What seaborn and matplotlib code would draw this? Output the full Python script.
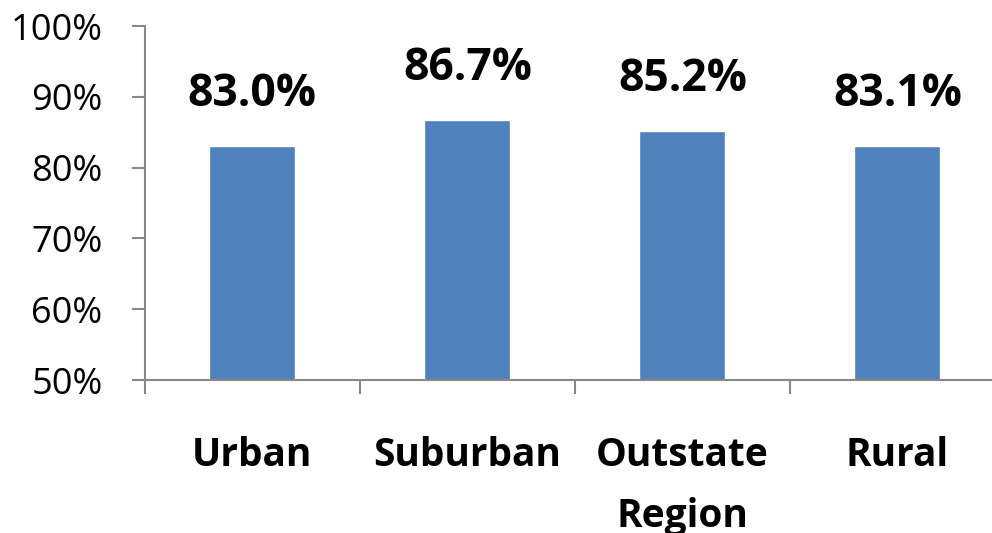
import matplotlib
matplotlib.use('Agg')
import matplotlib.pyplot as plt
import seaborn as sns
import pandas as pd
from matplotlib.ticker import FixedLocator, PercentFormatter

# Data
regions = ['Urban', 'Suburban', 'Outstate\nRegion', 'Rural']
rates = [83.0, 86.7, 85.2, 83.1]

df = pd.DataFrame({'region': regions, 'rate': rates})

sns.set_style('white')
plt.rcParams['font.family'] = ['Open Sans', 'DejaVu Sans']
plt.rcParams['text.color'] = 'black'
plt.rcParams['xtick.labelcolor'] = 'black'
plt.rcParams['ytick.labelcolor'] = 'black'

fig = plt.figure(figsize=(9.92, 5.33), dpi=100)
ax = fig.add_axes([0.146, 0.287, 0.867, 0.664])

sns.barplot(data=df, x='region', y='rate', color='#4F81BD', width=0.4,
            saturation=1, ax=ax)

ax.set_ylim(50, 100)
ax.set_xlim(-0.5, 3.5)
ax.set_yticks([50, 60, 70, 80, 90, 100])
ax.yaxis.set_major_formatter(PercentFormatter(decimals=0))
ax.set_xlabel('')
ax.set_ylabel('')

# value labels above bars
for i, v in enumerate(rates):
    ax.annotate(f'{v:.1f}%', (i, v), xytext=(0, 21), textcoords='offset points',
                ha='center', va='bottom', fontsize=32, fontweight='bold',
                color='black')

# category labels at centres, tick marks at boundaries
ax.tick_params(axis='x', which='major', length=0, pad=40, labelsize=28)
for lab in ax.get_xticklabels():
    lab.set_fontweight('bold')
    lab.set_linespacing(1.75)
    lab.set_va('top')
ax.xaxis.set_minor_locator(FixedLocator([-0.5, 0.5, 1.5, 2.5]))
ax.tick_params(axis='x', which='minor', length=10, width=1.5, color='#888888',
               direction='out', bottom=True)
ax.tick_params(axis='y', length=9.5, width=1.5, color='#888888', direction='out',
               left=True, pad=21, labelsize=26)

sns.despine(ax=ax, top=True, right=True)
for side in ['left', 'bottom']:
    ax.spines[side].set_color('#888888')
    ax.spines[side].set_linewidth(1.5)
ax.grid(False)

fig.savefig('out.png', dpi=100)
